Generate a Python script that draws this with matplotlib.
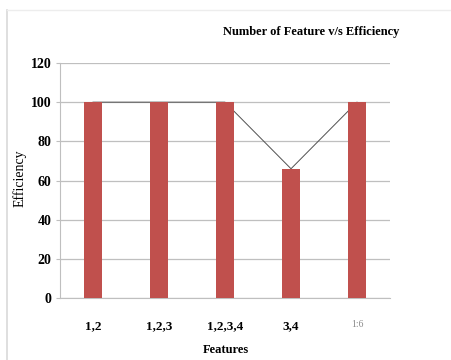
import matplotlib
matplotlib.use("Agg")
import matplotlib.pyplot as plt
from matplotlib.lines import Line2D

categories = ["1,2", "1,2,3", "1,2,3,4", "3,4", "1:6"]
efficiency = [100, 100, 100, 66, 100]
yticks = [0, 20, 40, 60, 80, 100, 120]

W, H = 451, 360
fig = plt.figure(figsize=(W / 100, H / 100), dpi=100)
fig.patch.set_facecolor("white")

# outer frame (light gray)
fig.add_artist(Line2D([7 / W, 7 / W], [0, 1 - 10 / H], color="#d9d9d9", lw=1.2, transform=fig.transFigure))
fig.add_artist(Line2D([7 / W, 1], [1 - 10 / H, 1 - 10 / H], color="#ededed", lw=1.0, transform=fig.transFigure))

left, right = 60 / W, 390 / W
bottom, top = 1 - 298 / H, 1 - 63 / H
ax = fig.add_axes([left, bottom, right - left, top - bottom])

x = list(range(len(categories)))
ax.bar(x, efficiency, width=0.26, color="#c0504d", zorder=3)
ax.plot(x, efficiency, color="#505050", lw=0.7, zorder=2)

ax.set_xlim(-0.5, len(categories) - 0.5)
ax.set_ylim(0, 120)
ax.set_yticks(yticks)
ax.set_yticklabels([str(v) for v in yticks], family="Liberation Serif", fontweight="bold", fontsize=10)
ax.set_xticks(x)
ax.set_xticklabels(categories, family="Liberation Serif", fontweight="bold", fontsize=9.5)
lbls = ax.get_xticklabels()
lbls[-1].set_color("#8a8a8a")
lbls[-1].set_fontweight("normal")
lbls[-1].set_fontsize(7)

ax.grid(axis="y", color="#bfbfbf", lw=0.9, zorder=0)
for s in ["top", "right"]:
    ax.spines[s].set_visible(False)
ax.spines["left"].set_color("#bfbfbf")
ax.spines["bottom"].set_color("#bfbfbf")
ax.tick_params(axis="y", length=3, color="#bfbfbf", pad=3)
ax.tick_params(axis="x", length=0, pad=16)

fig.text(311 / W, 1 - 32 / H, "Number of Feature v/s Efficiency", family="Liberation Serif",
         fontweight="bold", fontsize=9, ha="center", va="center")
fig.text(20 / W, 1 - 178 / H, "Efficiency", family="Liberation Serif", fontsize=10,
         rotation=90, ha="center", va="center")
fig.text(226 / W, 1 - 350 / H, "Features", family="Liberation Serif", fontweight="bold",
         fontsize=9, ha="center", va="center")

fig.savefig("out.png", dpi=100, facecolor="white")
